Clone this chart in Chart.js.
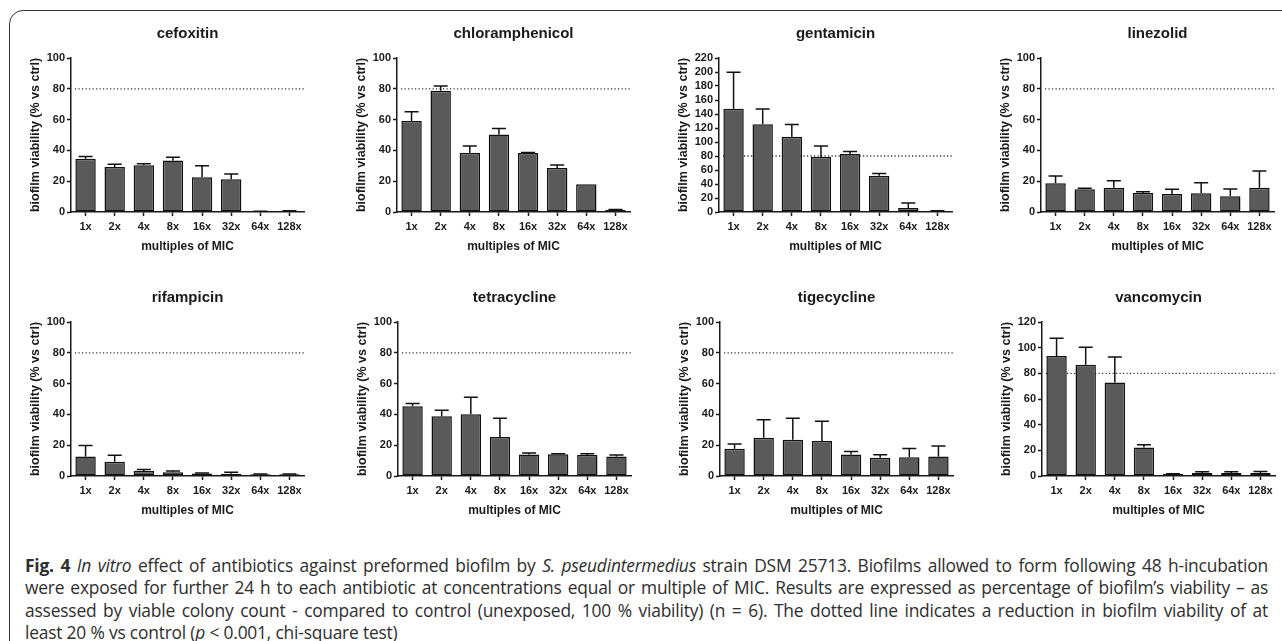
<!DOCTYPE html>
<html>
<head>
<meta charset="utf-8">
<script src="https://cdn.jsdelivr.net/npm/chart.js@4"></script>
<style>
  body { margin: 0; width: 1282px; height: 641px; overflow: hidden; background: #fff; position: relative; }
  #frame { position: absolute; left: 9px; top: 10px; width: 1320px; height: 680px; border: 1.5px solid #333; border-radius: 14px; }
  canvas { position: absolute; }
  #caption { position: absolute; left: 25px; top: 554px; width: 1243px; font-family: "Open Sans", sans-serif; font-size: 17.4px; line-height: 22.3px; color: #2e2e2e; letter-spacing: -0.2px; }
  #caption div { white-space: nowrap; text-align: justify; text-align-last: justify; }
  #caption div.last { text-align-last: left; }
</style>
</head>
<body>
<div id="frame"></div>

<canvas id="c0" width="292" height="240" style="left:15px; top:22px"></canvas>
<canvas id="c1" width="292" height="240" style="left:341px; top:22px"></canvas>
<canvas id="c2" width="292" height="240" style="left:663px; top:22px"></canvas>
<canvas id="c3" width="292" height="240" style="left:985px; top:22px"></canvas>
<canvas id="c4" width="292" height="240" style="left:15px; top:286px"></canvas>
<canvas id="c5" width="292" height="240" style="left:342px; top:286px"></canvas>
<canvas id="c6" width="292" height="240" style="left:664px; top:286px"></canvas>
<canvas id="c7" width="292" height="240" style="left:986px; top:286px"></canvas>

<div id="caption">
  <div><b>Fig. 4</b> <i>In vitro</i> effect of antibiotics against preformed biofilm by <i>S. pseudintermedius</i> strain DSM 25713. Biofilms allowed to form following 48 h-incubation</div>
  <div>were exposed for further 24 h to each antibiotic at concentrations equal or multiple of MIC. Results are expressed as percentage of biofilm’s viability – as</div>
  <div>assessed by viable colony count - compared to control (unexposed, 100 % viability) (n = 6). The dotted line indicates a reduction in biofilm viability of at</div>
  <div class="last">least 20 % vs control (<i>p</i> &lt; 0.001, chi-square test)</div>
</div>

<script>
// multiples of MIC
const categories = ['1x', '2x', '4x', '8x', '16x', '32x', '64x', '128x'];

// mean viability (% vs ctrl) and upper error bar for each antibiotic
const cefoxitin = [34.5, 29.2, 30.3, 33.5, 22.5, 21.2, 0.3, 0.4];
const cefoxitinErr = [1.5, 1.8, 1.1, 2.0, 7.6, 3.5, 0.2, 0.4];
const chloramphenicol = [59.1, 78.8, 38.5, 50.4, 38.3, 28.6, 18.0, 1.3];
const chloramphenicolErr = [6.0, 3.0, 4.3, 3.9, 0.3, 2.0, 0, 0.3];
const gentamicin = [147.5, 125.2, 107.6, 78.7, 83.0, 51.7, 5.7, 1.4];
const gentamicinErr = [52, 22, 17.5, 15.7, 3.3, 3.3, 7.0, 0.3];
const linezolid = [18.6, 14.7, 15.8, 12.3, 11.7, 12.1, 10.2, 15.8];
const linezolidErr = [4.8, 0.7, 4.5, 0.9, 3.0, 6.9, 4.7, 10.8];
const rifampicin = [12.7, 9.3, 3.2, 2.4, 1.7, 1.5, 1.1, 1.1];
const rifampicinErr = [7.1, 4.1, 1.1, 0.8, 0.2, 0.9, 0.2, 0.2];
const tetracycline = [45.3, 38.8, 40.1, 25.4, 14.0, 14.2, 13.6, 12.7];
const tetracyclineErr = [1.7, 3.9, 11.0, 12.1, 0.9, 0.2, 0.8, 0.9];
const tigecycline = [17.7, 24.8, 23.5, 22.8, 14.0, 11.9, 12.1, 12.7];
const tigecyclineErr = [3.0, 11.8, 14.0, 12.8, 1.9, 1.9, 5.8, 6.7];
const vancomycin = [93.6, 86.6, 72.9, 22.2, 1.6, 2.3, 2.3, 2.3];
const vancomycinErr = [13.7, 13.7, 19.9, 2.1, 0.2, 1.1, 1.1, 1.3];

// panel order, y-axis max per panel, and the threshold line
const names = ['cefoxitin', 'chloramphenicol', 'gentamicin', 'linezolid', 'rifampicin', 'tetracycline', 'tigecycline', 'vancomycin'];
const seriesMeans = [cefoxitin, chloramphenicol, gentamicin, linezolid, rifampicin, tetracycline, tigecycline, vancomycin];
const seriesErrs = [cefoxitinErr, chloramphenicolErr, gentamicinErr, linezolidErr, rifampicinErr, tetracyclineErr, tigecyclineErr, vancomycinErr];
const yMaxes = [100, 100, 220, 100, 100, 100, 100, 120];
const threshold = 80;

const ink = '#1a1a1a';
const fontFamily = '"Liberation Sans", Arial, sans-serif';

// title over the plot area, centred on it (not on the canvas)
const panelTitle = {
  id: 'panelTitle',
  afterDraw(chart, args, opts) {
    const {ctx, chartArea} = chart;
    ctx.save();
    ctx.font = 'bold 15px ' + fontFamily;
    ctx.fillStyle = ink;
    ctx.textAlign = 'center';
    ctx.textBaseline = 'middle';
    ctx.fillText(opts.text, (chartArea.left + chartArea.right) / 2, chartArea.top - 24);
    ctx.restore();
  }
};

// dotted line at 80 %, drawn behind the bars
const refLine = {
  id: 'refLine',
  beforeDatasetsDraw(chart, args, opts) {
    const {ctx, chartArea, scales} = chart;
    const y = scales.y.getPixelForValue(opts.value);
    ctx.save();
    ctx.strokeStyle = '#333';
    ctx.lineWidth = 1.3;
    ctx.setLineDash([1.2, 2.3]);
    ctx.beginPath();
    ctx.moveTo(chartArea.left + 4, y);
    ctx.lineTo(chartArea.right, y);
    ctx.stroke();
    ctx.restore();
  }
};

// upper error bars with caps
const errBars = {
  id: 'errBars',
  afterDatasetsDraw(chart, args, opts) {
    const {ctx, scales} = chart;
    const meta = chart.getDatasetMeta(0);
    const vals = chart.data.datasets[0].data;
    ctx.save();
    ctx.strokeStyle = '#111';
    ctx.lineWidth = 1.5;
    meta.data.forEach((bar, i) => {
      const e = opts.err[i];
      if (!e) return;
      const yTop = scales.y.getPixelForValue(vals[i] + e);
      ctx.beginPath();
      ctx.moveTo(bar.x, bar.y);
      ctx.lineTo(bar.x, yTop);
      ctx.moveTo(bar.x - 7, yTop);
      ctx.lineTo(bar.x + 7, yTop);
      ctx.stroke();
    });
    ctx.restore();
  }
};

function axisGrid(offset) {
  return {
    offset: offset,
    drawOnChartArea: false,
    drawTicks: true,
    tickLength: 4,
    tickWidth: 1.5,
    tickColor: ink
  };
}

names.forEach((name, k) => {
  new Chart(document.getElementById('c' + k), {
    type: 'bar',
    data: {
      labels: categories,
      datasets: [{
        data: seriesMeans[k],
        backgroundColor: '#5a5a5a',
        borderColor: '#111',
        borderWidth: 1.5,
        borderSkipped: false,
        barPercentage: 0.7,
        categoryPercentage: 1
      }]
    },
    options: {
      responsive: false,
      animation: false,
      devicePixelRatio: 1,
      layout: { padding: { top: 36, right: 3, left: 0, bottom: 0 } },
      plugins: {
        legend: { display: false },
        tooltip: { enabled: false },
        panelTitle: { text: name },
        refLine: { value: threshold },
        errBars: { err: seriesErrs[k] }
      },
      scales: {
        x: {
          grid: axisGrid(false),
          border: { color: ink, width: 1.5 },
          ticks: { color: ink, font: { family: fontFamily, size: 11, weight: 'bold' }, padding: 4, maxRotation: 0, autoSkip: false },
          title: { display: true, text: 'multiples of MIC', color: ink, font: { family: fontFamily, size: 12, weight: 'bold' }, padding: { top: 0, bottom: 8 } },
          afterFit(s) { s.height = 50; }
        },
        y: {
          min: 0,
          max: yMaxes[k],
          grid: axisGrid(false),
          border: { color: ink, width: 1.5 },
          ticks: { stepSize: 20, autoSkip: false, color: ink, font: { family: fontFamily, size: 11, weight: 'bold' }, padding: 2 },
          title: { display: true, text: 'biofilm viability (% vs ctrl)', color: ink, font: { family: fontFamily, size: 12.5, weight: 'bold' }, padding: { top: 13, bottom: 0 } },
          afterFit(s) { s.width = 56; }
        }
      }
    },
    plugins: [panelTitle, refLine, errBars]
  });
});
</script>
</body>
</html>
